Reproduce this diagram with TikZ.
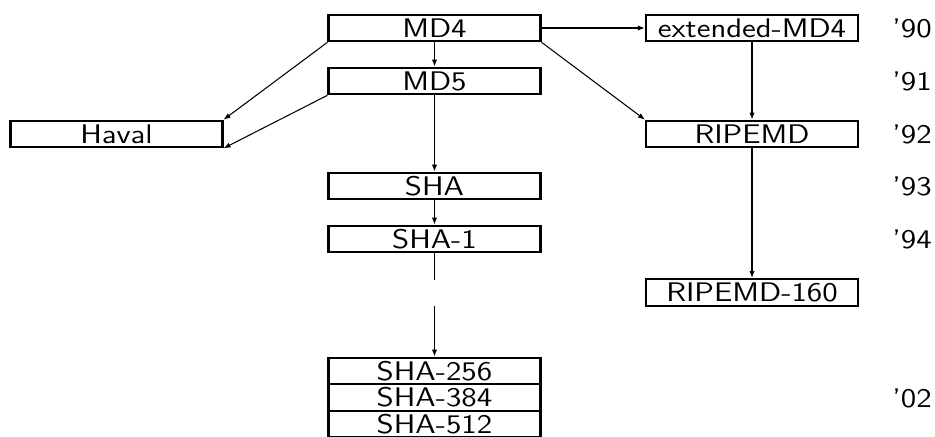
\documentclass[tikz,border=0pt]{standalone}
\usepackage{graphicx}
\usetikzlibrary{arrows.meta}
\newcommand{\wide}[1]{\scalebox{1.17}[1]{#1}}
\begin{document}
\begin{tikzpicture}[x=0.02cm,y=-0.02cm,
    algo/.style={draw,line width=1.2pt,inner sep=0pt,minimum width=4.24cm,
      minimum height=0.53cm,font=\sffamily\fontsize{15.3}{18}\selectfont},
    year/.style={anchor=west,inner sep=0pt,font=\sffamily\fontsize{15.3}{18}\selectfont},
    link/.style={-{Latex[length=4pt,width=3pt]},line width=1.1pt},
    thinlink/.style={link,line width=0.6pt}]
  \useasboundingbox (0,0) rectangle (935,436);
  \node[algo] (md4) at (434.5,28) {\wide{MD4}};
  \node[algo] (md5) at (434.5,81) {\wide{MD5}};
  \node[algo] (haval) at (116.5,134) {\wide{Haval}};
  \node[algo] (sha) at (434.5,186) {\wide{SHA}};
  \node[algo] (sha1) at (434.5,239) {\wide{SHA-1}};
  \node[algo] (sha256) at (434.5,371) {\wide{SHA-256}};
  \node[algo] (sha384) at (434.5,397.5) {\wide{SHA-384}};
  \node[algo] (sha512) at (434.5,424) {\wide{SHA-512}};
  \node[algo] (extmd4) at (752,28) {\wide{extended-MD4}};
  \node[algo] (ripemd) at (752,134) {\wide{RIPEMD}};
  \node[algo] (ripemd160) at (752,292.5) {\wide{RIPEMD-160}};
  \coordinate (gaptop) at (434.5,280);
  \coordinate (gapbot) at (434.5,306);
  \node[year] (y90) at (892,28) {\wide{'90}};
  \node[year] (y91) at (892,81) {\wide{'91}};
  \node[year] (y92) at (892,134) {\wide{'92}};
  \node[year] (y93) at (892,186) {\wide{'93}};
  \node[year] (y94) at (892,239) {\wide{'94}};
  \node[year] (y02) at (892,398.5) {\wide{'02}};
  \draw[link] (md4) -- (extmd4);
  \draw[link] (md4) -- (md5);
  \draw[thinlink] (md4.south west) -- (haval.north east);
  \draw[thinlink] (md5.south west) -- (haval.south east);
  \draw[thinlink] (md4.south east) -- (ripemd.north west);
  \draw[link] (extmd4) -- (ripemd);
  \draw[link] (ripemd) -- (ripemd160);
  \draw[link] (md5) -- (sha);
  \draw[link] (sha) -- (sha1);
  \draw[line width=1.1pt] (sha1) -- (gaptop);
  \draw[link] (gapbot) -- (sha256);
\end{tikzpicture}
\end{document}
